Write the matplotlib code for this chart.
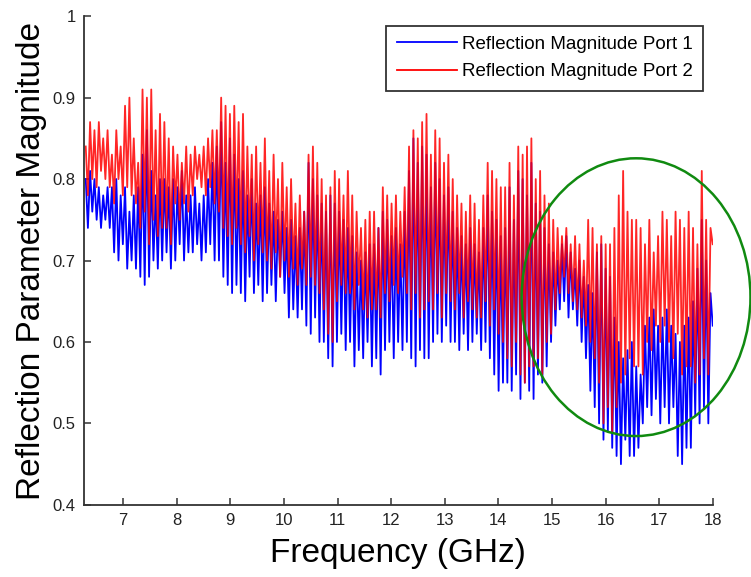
import numpy as np
import matplotlib
matplotlib.use("Agg")
import matplotlib.pyplot as plt
from matplotlib.patches import Ellipse

# ── data (alternating peaks / troughs) ────────────────────────────────────────
F_START, F_STOP = 6.3, 18.0

port1 = [
    0.80, 0.74, 0.81, 0.76, 0.80, 0.75, 0.79, 0.74, 0.78, 0.75, 0.79, 0.74,
    0.79, 0.71, 0.80, 0.70, 0.78, 0.72, 0.79, 0.69, 0.76, 0.70, 0.78, 0.69,
    0.79, 0.68, 0.83, 0.67, 0.86, 0.68, 0.81, 0.70, 0.78, 0.69, 0.80, 0.70,
    0.80, 0.71, 0.79, 0.69, 0.80, 0.70, 0.79, 0.72, 0.81, 0.70, 0.78, 0.71,
    0.78, 0.71, 0.79, 0.72, 0.77, 0.70, 0.78, 0.71, 0.80, 0.72, 0.82, 0.70,
    0.84, 0.70, 0.87, 0.68, 0.82, 0.67, 0.85, 0.66, 0.83, 0.67, 0.80, 0.66,
    0.81, 0.65, 0.78, 0.68, 0.80, 0.66, 0.77, 0.67, 0.78, 0.65, 0.79, 0.66,
    0.77, 0.67, 0.76, 0.65, 0.75, 0.68, 0.76, 0.66, 0.74, 0.63, 0.75, 0.64,
    0.73, 0.63, 0.74, 0.64, 0.76, 0.62, 0.82, 0.61, 0.80, 0.63, 0.78, 0.60,
    0.77, 0.60, 0.76, 0.58, 0.78, 0.57, 0.77, 0.60, 0.76, 0.61, 0.75, 0.59,
    0.74, 0.60, 0.73, 0.57, 0.71, 0.59, 0.70, 0.58, 0.71, 0.60, 0.72, 0.57,
    0.72, 0.58, 0.74, 0.56, 0.76, 0.59, 0.75, 0.60, 0.73, 0.58, 0.74, 0.60,
    0.72, 0.59, 0.76, 0.60, 0.81, 0.58, 0.85, 0.57, 0.82, 0.59, 0.84, 0.58,
    0.83, 0.58, 0.79, 0.60, 0.82, 0.61, 0.80, 0.60, 0.78, 0.62, 0.79, 0.60,
    0.76, 0.60, 0.74, 0.59, 0.73, 0.61, 0.72, 0.59, 0.74, 0.60, 0.72, 0.61,
    0.71, 0.59, 0.74, 0.60, 0.78, 0.58, 0.76, 0.56, 0.75, 0.54, 0.73, 0.55,
    0.74, 0.55, 0.79, 0.54, 0.75, 0.56, 0.81, 0.53, 0.80, 0.55, 0.78, 0.54,
    0.82, 0.53, 0.77, 0.56, 0.76, 0.55, 0.74, 0.57, 0.72, 0.60, 0.71, 0.62,
    0.70, 0.64, 0.72, 0.65, 0.73, 0.63, 0.71, 0.64, 0.69, 0.62, 0.70, 0.60,
    0.68, 0.58, 0.67, 0.54, 0.66, 0.52, 0.71, 0.50, 0.72, 0.48, 0.69, 0.49,
    0.68, 0.47, 0.63, 0.46, 0.60, 0.45, 0.58, 0.48, 0.59, 0.46, 0.60, 0.46,
    0.57, 0.47, 0.56, 0.50, 0.62, 0.52, 0.63, 0.51, 0.64, 0.53, 0.62, 0.50,
    0.63, 0.52, 0.64, 0.50, 0.62, 0.52, 0.61, 0.46, 0.60, 0.45, 0.62, 0.47,
    0.63, 0.47, 0.65, 0.51, 0.69, 0.50, 0.75, 0.52, 0.70, 0.50, 0.66, 0.62,
]

port2 = [
    0.84, 0.78, 0.87, 0.80, 0.86, 0.79, 0.87, 0.81, 0.85, 0.80, 0.86, 0.79,
    0.83, 0.77, 0.86, 0.80, 0.84, 0.78, 0.89, 0.79, 0.90, 0.78, 0.85, 0.77,
    0.82, 0.74, 0.91, 0.76, 0.90, 0.72, 0.91, 0.75, 0.86, 0.73, 0.88, 0.74,
    0.87, 0.74, 0.85, 0.72, 0.84, 0.77, 0.83, 0.75, 0.82, 0.77, 0.84, 0.76,
    0.83, 0.78, 0.84, 0.80, 0.83, 0.79, 0.84, 0.78, 0.85, 0.79, 0.86, 0.77,
    0.86, 0.76, 0.90, 0.74, 0.89, 0.73, 0.88, 0.72, 0.89, 0.74, 0.87, 0.72,
    0.88, 0.71, 0.84, 0.73, 0.83, 0.70, 0.84, 0.72, 0.82, 0.71, 0.85, 0.70,
    0.81, 0.69, 0.83, 0.71, 0.80, 0.68, 0.82, 0.70, 0.79, 0.68, 0.80, 0.69,
    0.77, 0.67, 0.78, 0.69, 0.76, 0.67, 0.83, 0.68, 0.84, 0.67, 0.82, 0.66,
    0.80, 0.64, 0.78, 0.61, 0.79, 0.60, 0.81, 0.65, 0.80, 0.67, 0.78, 0.66,
    0.81, 0.66, 0.78, 0.64, 0.76, 0.67, 0.74, 0.64, 0.75, 0.63, 0.76, 0.64,
    0.76, 0.64, 0.74, 0.63, 0.79, 0.66, 0.78, 0.65, 0.77, 0.67, 0.78, 0.66,
    0.76, 0.68, 0.79, 0.66, 0.84, 0.64, 0.86, 0.66, 0.85, 0.63, 0.87, 0.64,
    0.88, 0.65, 0.83, 0.64, 0.86, 0.66, 0.85, 0.63, 0.82, 0.66, 0.83, 0.65,
    0.80, 0.64, 0.78, 0.66, 0.77, 0.63, 0.76, 0.65, 0.78, 0.64, 0.77, 0.63,
    0.75, 0.63, 0.78, 0.65, 0.82, 0.62, 0.81, 0.64, 0.80, 0.61, 0.79, 0.60,
    0.79, 0.58, 0.82, 0.57, 0.78, 0.60, 0.84, 0.56, 0.83, 0.55, 0.84, 0.57,
    0.85, 0.57, 0.80, 0.58, 0.81, 0.56, 0.78, 0.60, 0.77, 0.61, 0.75, 0.64,
    0.74, 0.66, 0.73, 0.68, 0.74, 0.66, 0.72, 0.65, 0.73, 0.64, 0.72, 0.63,
    0.70, 0.62, 0.75, 0.60, 0.74, 0.58, 0.72, 0.55, 0.73, 0.50, 0.72, 0.52,
    0.72, 0.49, 0.74, 0.52, 0.78, 0.55, 0.81, 0.56, 0.76, 0.58, 0.75, 0.57,
    0.75, 0.57, 0.74, 0.56, 0.72, 0.60, 0.75, 0.59, 0.71, 0.62, 0.73, 0.60,
    0.76, 0.62, 0.75, 0.60, 0.73, 0.58, 0.76, 0.61, 0.75, 0.56, 0.74, 0.57,
    0.76, 0.57, 0.74, 0.55, 0.72, 0.56, 0.81, 0.58, 0.75, 0.56, 0.74, 0.72,
]

x_ticks = [7, 8, 9, 10, 11, 12, 13, 14, 15, 16, 17, 18]
y_ticks = [0.4, 0.5, 0.6, 0.7, 0.8, 0.9, 1.0]
labels = ["Reflection Magnitude Port 1", "Reflection Magnitude Port 2"]

# highlighted region (centre, width, height in data units)
circ_center = (16.57, 0.655)
circ_w, circ_h = 4.27, 0.341

# ── figure ─────────────────────────────────────────────────────────────────────
plt.rcParams["font.family"] = ["Liberation Sans", "DejaVu Sans"]

freq = np.linspace(F_START, F_STOP, len(port1))

fig = plt.figure(figsize=(7.51, 5.77), dpi=100)
ax = fig.add_axes([0.112, 0.125, 0.837, 0.847])

ax.plot(freq, port1, color="#0000ff", linewidth=1.3, label=labels[0])
ax.plot(freq, port2, color="#ff0000", linewidth=1.3, alpha=0.85, label=labels[1])

ax.add_patch(Ellipse(circ_center, circ_w, circ_h, fill=False,
                     edgecolor="#108a10", linewidth=1.8, clip_on=False, zorder=5))

ax.set_xlim(6.27, 18)
ax.set_ylim(0.4, 1.0)
ax.set_xticks(x_ticks)
ax.set_yticks(y_ticks)
ax.set_yticklabels([f"{v:g}" for v in y_ticks])

for s in ("top", "right"):
    ax.spines[s].set_visible(False)
for s in ("left", "bottom"):
    ax.spines[s].set_color("#333333")
    ax.spines[s].set_linewidth(1.3)

ax.tick_params(direction="in", length=5, width=1.1, color="#333333",
               labelcolor="#222222", labelsize=12, pad=6)

ax.set_xlabel("Frequency (GHz)", fontsize=24, labelpad=7)
ax.set_ylabel("Reflection Parameter Magnitude", fontsize=24, labelpad=4)

leg = ax.legend(loc="upper right", fontsize=13.5, handlelength=3.2,
                fancybox=False, edgecolor="#333333", framealpha=1,
                borderpad=0.55, labelspacing=0.55, handletextpad=0.3)
leg.get_frame().set_linewidth(1.3)
for h in leg.get_lines():
    h.set_alpha(1)

fig.savefig("out.png", dpi=100)
